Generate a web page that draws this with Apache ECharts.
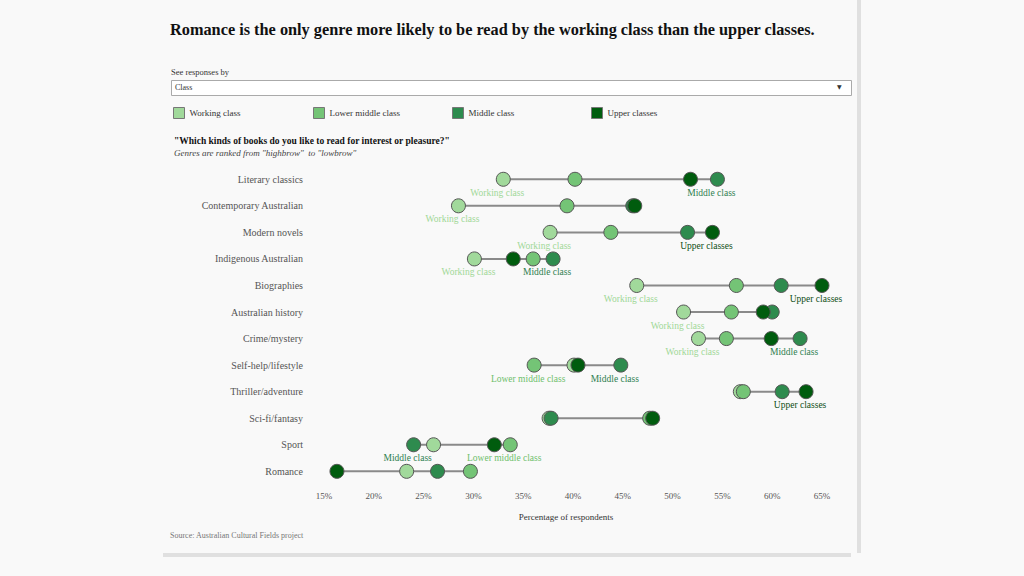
<!DOCTYPE html>
<html>
<head>
<meta charset="utf-8">
<script src="https://cdn.jsdelivr.net/npm/echarts@6/dist/echarts.min.js"></script>
<style>
html,body{margin:0;padding:0;background:#f9f9f9;}
#chart{width:1024px;height:576px;}
</style>
</head>
<body>
<div id="chart"></div>
<script>
const genres = ["Literary classics","Contemporary Australian","Modern novels","Indigenous Australian","Biographies","Australian history","Crime/mystery","Self-help/lifestyle","Thriller/adventure","Sci-fi/fantasy","Sport","Romance"];
const classes = ["Working class","Lower middle class","Middle class","Upper classes"];
const workingClass     = [33.0, 28.5, 37.7, 30.1, 46.4, 51.1, 52.6, 40.1, 56.8, 37.6, 26.0, 23.3];
const lowerMiddleClass = [40.2, 39.4, 43.8, 36.0, 56.4, 55.9, 55.4, 36.1, 57.1, 47.7, 33.7, 29.7];
const middleClass      = [54.5, 46.0, 51.5, 38.0, 60.9, 60.0, 62.8, 44.8, 61.0, 37.8, 24.0, 26.4];
const upperClasses     = [51.8, 46.2, 54.0, 34.0, 65.0, 59.1, 59.9, 40.5, 63.4, 48.0, 32.1, 16.3];
const shownLabels = [
  ["Working class","Middle class"],
  ["Working class"],
  ["Working class","Upper classes"],
  ["Working class","Middle class"],
  ["Working class","Upper classes"],
  ["Working class"],
  ["Working class","Middle class"],
  ["Lower middle class","Middle class"],
  ["Upper classes"],
  [],
  ["Middle class","Lower middle class"],
  []
];
const xMin = 15, xMax = 65, xStep = 5;

const colors = ["#a1d99b","#74c476","#2e8b4e","#005c0e"];
const labelColors = ["#9fd897","#6fbf6c","#2e8050","#0d4d14"];
const serif = "'Liberation Serif', 'DejaVu Serif', serif";
const valueSets = [workingClass, lowerMiddleClass, middleClass, upperClasses];

const rangeData = genres.map((g, i) => {
  const vals = valueSets.map(s => s[i]);
  return [Math.min(...vals), Math.max(...vals), i];
});

const chart = echarts.init(document.getElementById('chart'), null, {renderer:'svg'});

const legendX = [168, 308, 447, 586];

const option = {
  backgroundColor: '#f9f9f9',
  animation: false,
  title: {
    text: 'Romance is the only genre more likely to be read by the working class than the upper classes.',
    left: 165, top: 16,
    textStyle: {fontFamily: serif, fontSize: 16.3, fontWeight: 'bold', color: '#111'}
  },
  legend: classes.map((c, i) => ({
    data: [c], left: legendX[i], top: 102, selectedMode: false,
    icon: 'rect', itemWidth: 11, itemHeight: 11, itemGap: 6,
    itemStyle: {borderColor: '#777', borderWidth: 1},
    textStyle: {fontFamily: serif, fontSize: 9, color: '#333'}
  })),
  grid: {left: 324, right: 1024 - 822, top: 166, height: 318.6, containLabel: false},
  xAxis: {
    type: 'value', min: xMin, max: xMax, interval: xStep,
    axisLine: {show: false}, axisTick: {show: false}, splitLine: {show: false},
    axisLabel: {formatter: '{value}%', fontFamily: serif, fontSize: 9, color: '#555', margin: 7},
    name: 'Percentage of respondents', nameLocation: 'middle', nameGap: 28,
    nameTextStyle: {fontFamily: serif, fontSize: 9, color: '#333', padding: [0, 14, 0, 0]}
  },
  yAxis: {
    type: 'category', data: genres, inverse: true,
    axisLine: {show: false}, axisTick: {show: false}, splitLine: {show: false},
    axisLabel: {fontFamily: serif, fontSize: 10, color: '#555', margin: 21}
  },
  series: [
    {
      type: 'custom', name: 'range', silent: true, z: 1, clip: false,
      data: rangeData,
      encode: {x: [0, 1], y: 2},
      renderItem: function (params, api) {
        const p1 = api.coord([api.value(0), api.value(2)]);
        const p2 = api.coord([api.value(1), api.value(2)]);
        return {type: 'line', shape: {x1: p1[0], y1: p1[1], x2: p2[0], y2: p2[1]},
                style: {stroke: '#8a8a8a', lineWidth: 2}};
      }
    }
  ].concat(classes.map((c, k) => ({
    type: 'scatter', name: c, z: 2 + k, clip: false,
    symbol: 'circle', symbolSize: 14,
    itemStyle: {color: colors[k], borderColor: '#555', borderWidth: 1, opacity: 1},
    data: valueSets[k].map((v, i) => ({
      value: [v, i],
      label: {
        show: shownLabels[i].indexOf(c) >= 0,
        formatter: c, position: 'bottom', distance: 1, offset: [-6, 0],
        fontFamily: serif, fontSize: 9.5, color: labelColors[k]
      }
    }))
  }))),
  graphic: [
    {type: 'rect', left: 857, top: 0, shape: {width: 4, height: 553}, style: {fill: '#e0e0e0'}, silent: true},
    {type: 'rect', left: 163, top: 553, shape: {width: 688, height: 4}, style: {fill: '#e0e0e0'}, silent: true},
    {type: 'text', left: 171, top: 67, style: {text: 'See responses by', fontFamily: serif, fontSize: 8.5, fill: '#333'}},
    {type: 'rect', left: 171, top: 80, shape: {width: 680, height: 15}, style: {fill: '#fff', stroke: '#aaa', lineWidth: 1}},
    {type: 'text', left: 175, top: 83, style: {text: 'Class', fontFamily: serif, fontSize: 8, fill: '#333'}},
    {type: 'text', left: 837, top: 83, style: {text: '▼', fontFamily: "'DejaVu Sans', sans-serif", fontSize: 6, fill: '#333'}},
    {type: 'text', left: 174, top: 136, style: {text: '"Which kinds of books do you like to read for interest or pleasure?"', fontFamily: serif, fontSize: 9.5, fontWeight: 'bold', fill: '#111'}},
    {type: 'text', left: 174, top: 148, style: {text: 'Genres are ranked from "highbrow"  to "lowbrow"', fontFamily: serif, fontSize: 9, fontStyle: 'italic', fill: '#444'}},
    {type: 'text', left: 170, top: 531, style: {text: 'Source: Australian Cultural Fields project', fontFamily: serif, fontSize: 8, fill: '#777'}}
  ]
};
chart.setOption(option);
</script>
</body>
</html>
